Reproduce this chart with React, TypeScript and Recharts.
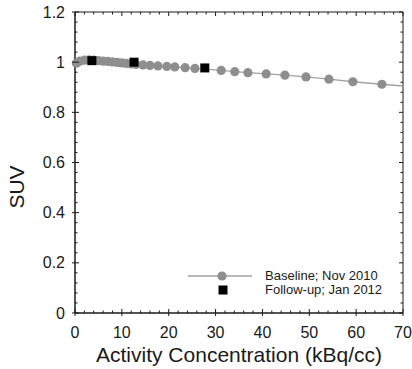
import React from 'react';
import { ScatterChart, Scatter, XAxis, YAxis, ReferenceArea } from 'recharts';

// Baseline (Nov 2010) measurements
const baselineX = [0.3, 1, 2, 3, 4, 5, 6, 7, 8, 9, 10, 11, 12, 13, 14.5, 16, 17.7, 19.6, 21.3, 23.5, 25.6, 31.2, 34.1, 36.9, 40.8, 44.8, 49.3, 54.2, 59.3, 65.5];
const baselineSUV = [0.996, 1.004, 1.008, 1.009, 1.008, 1.006, 1.004, 1.003, 1.001, 0.999, 0.997, 0.995, 0.993, 0.991, 0.989, 0.987, 0.985, 0.983, 0.981, 0.978, 0.975, 0.967, 0.962, 0.958, 0.953, 0.948, 0.941, 0.932, 0.922, 0.912];
// line continues to the edge of the plot
const trendEndX = [70];
const trendEndSUV = [0.905];
// Follow-up (Jan 2012) measurements
const followX = [3.6, 12.6, 27.7];
const followSUV = [1.006, 1.0, 0.977];

const xMajorTicks = [0, 10, 20, 30, 40, 50, 60, 70];
const yMajorTicks = [0, 0.2, 0.4, 0.6, 0.8, 1, 1.2];
const xTicks = Array.from({ length: 36 }, (_, i) => i * 2);
const yTicks = Array.from({ length: 31 }, (_, i) => Math.round(i * 4) / 100);

const seriesNames = ['Baseline; Nov 2010', 'Follow-up; Jan 2012'];

const baselineData = baselineX.map((x, i) => ({ x, y: baselineSUV[i] }));
const trendData = [...baselineData, ...trendEndX.map((x, i) => ({ x, y: trendEndSUV[i] }))];
const followData = followX.map((x, i) => ({ x, y: followSUV[i] }));

const FONT = '"Liberation Sans", Arial, Helvetica, sans-serif';
const INK = '#1a1a1a';
const GRAY = '#8e8e8e';
const LINE = '#a2a2a2';
const PLOT_TOP = 12;
const PLOT_RIGHT = 403;

const isXMajor = (v: number) => xMajorTicks.some((t) => Math.abs(t - v) < 1e-6);
const isYMajor = (v: number) => yMajorTicks.some((t) => Math.abs(t - v) < 1e-6);

const XTick = (p: any) => {
  const v = p.payload.value;
  const major = isXMajor(v);
  return (
    <g>
      <line x1={p.x} x2={p.x} y1={p.y - (major ? 4 : 2.5)} y2={p.y + (major ? 3 : 0)} stroke={INK} strokeWidth={1} />
      <line x1={p.x} x2={p.x} y1={PLOT_TOP} y2={PLOT_TOP + (major ? 4 : 2.5)} stroke={INK} strokeWidth={1} />
      {major && (
        <text x={p.x} y={p.y + 25} textAnchor="middle" fontFamily={FONT} fontSize={16} fill={INK}>
          {v}
        </text>
      )}
    </g>
  );
};

const YTick = (p: any) => {
  const v = p.payload.value;
  const major = isYMajor(v);
  return (
    <g>
      <line x1={p.x - (major ? 3 : 0)} x2={p.x + (major ? 4 : 2.5)} y1={p.y} y2={p.y} stroke={INK} strokeWidth={1} />
      <line x1={PLOT_RIGHT - (major ? 4 : 2.5)} x2={PLOT_RIGHT} y1={p.y} y2={p.y} stroke={INK} strokeWidth={1} />
      {major && (
        <text x={p.x - 10} y={p.y + 5.5} textAnchor="end" fontFamily={FONT} fontSize={16} fill={INK}>
          {String(Math.round(v * 10) / 10)}
        </text>
      )}
    </g>
  );
};

const XLabel = () => (
  <text x={239} y={362} textAnchor="middle" fontFamily={FONT} fontSize={21} fill={INK}>
    Activity Concentration (kBq/cc)
  </text>
);

const YLabel = () => (
  <text x={24} y={187} textAnchor="middle" fontFamily={FONT} fontSize={21} fill={INK} transform="rotate(-90 24 187)">
    SUV
  </text>
);

const Dot = (p: any) => <circle cx={p.cx} cy={p.cy} r={4.6} fill={GRAY} />;
const Sq = (p: any) => <rect x={p.cx - 4.5} y={p.cy - 4.5} width={9} height={9} fill="#000" />;
const NoShape = () => <g />;

const LegendBox = () => (
  <div style={{ position: 'absolute', left: 186, top: 269, fontFamily: FONT, fontSize: 13, color: INK, lineHeight: '14px', whiteSpace: 'nowrap' }}>
    <div style={{ display: 'flex', alignItems: 'center', height: 14 }}>
      <svg width={79} height={14} style={{ display: 'block' }}>
        <line x1={2} x2={66} y1={7} y2={7} stroke={LINE} strokeWidth={1.3} />
        <circle cx={36} cy={7} r={4.6} fill={GRAY} />
      </svg>
      <span>{seriesNames[0]}</span>
    </div>
    <div style={{ display: 'flex', alignItems: 'center', height: 14 }}>
      <svg width={79} height={14} style={{ display: 'block' }}>
        <rect x={32.5} y={2.5} width={9} height={9} fill="#000" />
      </svg>
      <span>{seriesNames[1]}</span>
    </div>
  </div>
);

export default function App() {
  return (
    <div style={{ position: 'absolute', left: 0, top: 0, width: 412, height: 369, background: '#fff' }}>
      <ScatterChart width={412} height={369} margin={{ top: 12, right: 9, bottom: 26, left: 15 }}>
        <XAxis
          type="number"
          dataKey="x"
          domain={[0, 70]}
          ticks={xTicks}
          interval={0}
          tickSize={0}
          tickMargin={0}
          tickLine={false}
          tick={<XTick />}
          axisLine={{ stroke: INK }}
          height={30}
          label={<XLabel />}
        />
        <YAxis
          type="number"
          dataKey="y"
          domain={[0, 1.2]}
          ticks={yTicks}
          interval={0}
          tickSize={0}
          tickMargin={0}
          tickLine={false}
          tick={<YTick />}
          axisLine={{ stroke: INK }}
          width={60}
          label={<YLabel />}
        />
        <ReferenceArea x1={0} x2={70} y1={0} y2={1.2} fill="none" stroke={INK} strokeWidth={1} />
        <Scatter name="trend" data={trendData} line={{ stroke: LINE, strokeWidth: 1.3 }} shape={<NoShape />} isAnimationActive={false} />
        <Scatter name={seriesNames[0]} data={baselineData} shape={<Dot />} isAnimationActive={false} />
        <Scatter name={seriesNames[1]} data={followData} shape={<Sq />} isAnimationActive={false} />
      </ScatterChart>
      <LegendBox />
    </div>
  );
}
